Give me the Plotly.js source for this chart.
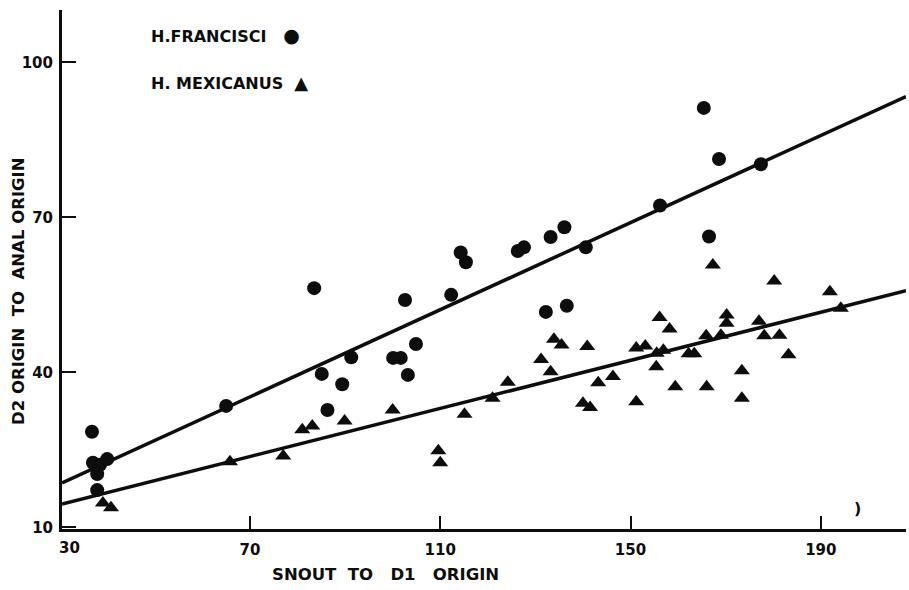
<!DOCTYPE html>
<html><head><meta charset="utf-8">
<script src="https://cdn.plot.ly/plotly-3.0.1.min.js"></script>
<style>html,body{margin:0;padding:0;background:#fff}#chart{width:909px;height:590px}</style>
</head><body><div id="chart"></div>
<script>
// H. francisci (circles)
const francisciX = [36.8, 37.0, 38.5, 40.0, 37.9, 37.9, 65.0, 83.5, 85.1, 86.3, 89.4, 91.3, 100.1, 101.7, 102.6, 103.2, 104.9, 112.3, 114.3, 115.4, 126.3, 127.6, 132.2, 133.2, 136.1, 136.6, 140.6, 156.2, 165.4, 166.5, 168.6, 177.4];
const francisciY = [28.5, 22.5, 22.1, 23.2, 20.3, 17.2, 33.5, 56.3, 39.7, 32.7, 37.7, 42.9, 42.8, 42.8, 54.0, 39.5, 45.5, 55.0, 63.2, 61.3, 63.5, 64.2, 51.7, 66.2, 68.1, 52.9, 64.2, 72.3, 91.2, 66.3, 81.3, 80.3];
// H. mexicanus (triangles)
const mexicanusX = [39.1, 40.8, 65.8, 77.0, 81.0, 83.1, 89.9, 100.0, 109.6, 110.0, 115.1, 121.0, 124.2, 131.2, 133.2, 133.9, 135.5, 140.9, 140.0, 141.5, 143.2, 146.3, 151.2, 153.1, 151.2, 155.5, 156.9, 155.4, 156.1, 158.2, 159.4, 162.2, 163.4, 165.9, 166.0, 167.3, 169.0, 170.2, 170.2, 173.4, 173.4, 177.0, 178.1, 180.2, 181.3, 183.2, 191.9, 194.2];
const mexicanusY = [14.7, 13.8, 22.7, 23.8, 28.9, 29.6, 30.6, 32.7, 24.8, 22.5, 31.9, 35.0, 38.1, 42.5, 40.1, 46.4, 45.3, 45.0, 34.0, 33.2, 38.0, 39.2, 44.7, 45.1, 34.3, 43.7, 44.3, 41.1, 50.6, 48.4, 37.2, 43.6, 43.6, 47.1, 37.2, 60.8, 47.2, 51.1, 49.5, 40.3, 35.0, 49.9, 47.1, 57.7, 47.2, 43.4, 55.6, 52.4];
// fitted lines
const fitX = [30.5, 207.9];
const francisciFitY = [18.6, 93.4];
const mexicanusFitY = [14.5, 55.8];
// axes
const xTickVals = [70, 110, 150, 190];
const xTickText = ['70', '110', '150', '190'];
const xCornerLabel = '30';
const yTickVals = [10, 40, 70, 100];
const yTickText = ['10', '40', '70', '100'];
const xTitle = 'SNOUT\u00a0 TO\u00a0\u00a0 D1\u00a0\u00a0 ORIGIN';
const yTitle = 'D2 ORIGIN\u00a0 TO\u00a0 ANAL ORIGIN';
const legendNames = ['H.FRANCISCI', 'H. MEXICANUS'];

const ink = '#0d0d0d';
const fam = 'DejaVu Sans, sans-serif';
const tickFont = {family: fam, size: 15, color: ink, weight: 'bold'};
const titleFont = {family: fam, size: 16.5, color: ink, weight: 'bold'};
const legendFont = {family: fam, size: 16, color: ink, weight: 'bold'};

const traces = [
  {x: fitX, y: francisciFitY, mode: 'lines', line: {color: ink, width: 3.5}, hoverinfo: 'skip', showlegend: false},
  {x: fitX, y: mexicanusFitY, mode: 'lines', line: {color: ink, width: 3.5}, hoverinfo: 'skip', showlegend: false},
  {x: francisciX, y: francisciY, mode: 'markers', name: legendNames[0], marker: {symbol: 'circle', size: 14, color: ink}, showlegend: false},
  {x: mexicanusX, y: mexicanusY, mode: 'markers', name: legendNames[1], marker: {symbol: 'triangle-up', size: 14, color: ink}, showlegend: false}
];

const layout = {
  width: 909, height: 590,
  margin: {l: 62, r: 3, t: 10, b: 61},
  paper_bgcolor: '#fff', plot_bgcolor: '#fff',
  font: tickFont,
  showlegend: false,
  xaxis: {
    range: [30.5, 207.9], showgrid: false, zeroline: false,
    showline: true, linecolor: ink, linewidth: 3,
    ticks: 'inside', ticklen: 13, tickwidth: 2, tickcolor: ink,
    tickvals: xTickVals, ticktext: xTickText, tickfont: tickFont,
    ticklabelstandoff: 5
  },
  yaxis: {
    range: [9.67, 110.15], showgrid: false, zeroline: false,
    showline: true, linecolor: ink, linewidth: 3,
    ticks: 'inside', ticklen: 14, tickwidth: 2, tickcolor: ink,
    tickvals: yTickVals, ticktext: yTickText, tickfont: tickFont,
    ticklabelstandoff: 3
  },
  annotations: [
    {xref: 'paper', yref: 'paper', x: (69 - 62) / 844, y: (529 - 548) / 519, text: xCornerLabel, showarrow: false, font: tickFont, xanchor: 'center', yanchor: 'middle'},
    {xref: 'paper', yref: 'paper', x: (385 - 62) / 844, y: (529 - 574) / 519, text: xTitle, showarrow: false, font: titleFont, xanchor: 'center', yanchor: 'middle'},
    {xref: 'paper', yref: 'paper', x: (18 - 62) / 844, y: (529 - 291) / 519, text: yTitle, textangle: -90, showarrow: false, font: titleFont, xanchor: 'center', yanchor: 'middle'},
    {xref: 'paper', yref: 'paper', x: (149 - 62) / 844, y: (529 - 35) / 519, text: legendNames[0] + '\u00a0\u00a0\u00a0<span style="font-size:19px">\u25CF</span>', showarrow: false, font: legendFont, xanchor: 'left', yanchor: 'middle'},
    {xref: 'paper', yref: 'paper', x: (149 - 62) / 844, y: (529 - 83) / 519, text: legendNames[1] + '\u00a0\u00a0<span style="font-size:18px">\u25B2</span>', showarrow: false, font: legendFont, xanchor: 'left', yanchor: 'middle'},
    {xref: 'paper', yref: 'paper', x: (857 - 62) / 844, y: (529 - 508) / 519, text: ')', showarrow: false, font: {family: fam, size: 16, color: ink, weight: 'bold'}, xanchor: 'center', yanchor: 'middle'}
  ]
};

Plotly.newPlot('chart', traces, layout, {displayModeBar: false, staticPlot: true});
</script>
</body></html>
